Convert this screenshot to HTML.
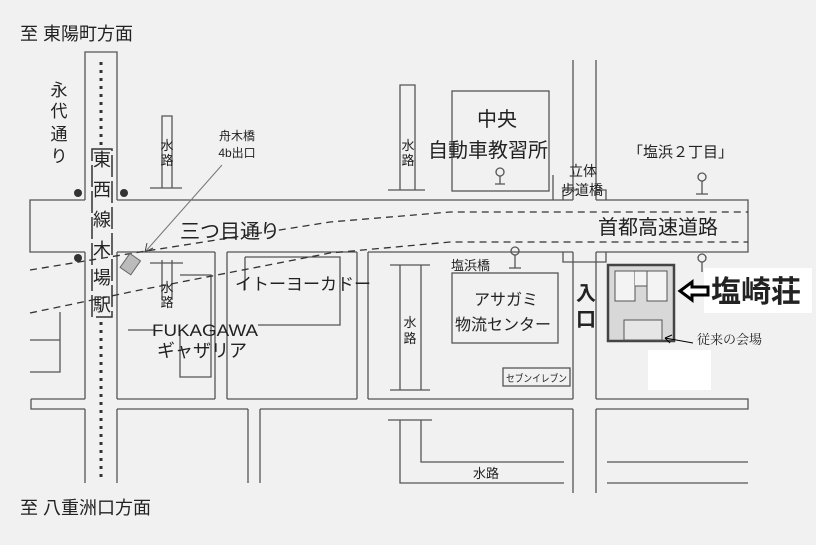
<!DOCTYPE html>
<html><head><meta charset="utf-8"><style>
html,body{margin:0;padding:0;background:#f1f1f1;}
svg{display:block}
text{font-family:"Liberation Sans","Noto Sans CJK JP",sans-serif;fill:#222}
</style></head><body>
<svg width="816" height="545" viewBox="0 0 816 545" xmlns="http://www.w3.org/2000/svg">
<rect width="816" height="545" fill="#f1f1f1"/>
<g stroke="#555" stroke-width="1.3" fill="none">
<!-- main vertical road -->
<path d="M85 200V52H117V200 M85 252V399 M117 252V399 M85 409V483 M117 409V483"/>
<!-- Mitsume road -->
<path d="M85 200H30V252H85 M117 200H573 M596 200H748V252H596 M117 252H215 M227 252H357 M368 252H573"/>
<!-- verticals top -->
<path d="M573 200V60 M596 200V60 M553 200V175"/>
<path d="M162 188V116H172V188 M150 188H182 M400 190V85H415V190 M388 190H425"/>
<!-- verticals mid -->
<path d="M215 252V399 M227 252V399 M357 252V399 M368 252V399 M573 252V399 M596 252V399"/>
<!-- bottom road -->
<path d="M31 399H85 M117 399H215 M227 399H357 M368 399H573 M596 399H748V409H596 M31 399V409H85 M117 409H248 M260 409H573"/>
<path d="M248 409V483 M260 409V483 M573 409V493 M596 409V493"/>
<!-- water channels -->
<path d="M400 265V390 M421 265V390 M390 265H430 M390 390H430"/>
<path d="M400 420V483H564 M421 420V462H564 M388 420H432 M607 462H748 M607 483H748"/>
<!-- left side lower blocks -->
<path d="M30 340H60V372H30 M60 312V340"/>
<!-- block internals -->
<path d="M162 260V300 M172 260V300 M150 263H183 M180 275H211V377H180V330 M128 330H155"/>
<path d="M245 257H340V325H258 M245 257V290"/>
<!-- Chuo building -->
<rect x="452" y="91" width="97" height="100"/>
<!-- Asagami -->
<rect x="452" y="273" width="106" height="70"/>
<!-- pedestrian bridge -->
<path d="M563 200V190H577 M606 200V190H596 M563 252V262H606V252"/>
<!-- 7-11 -->
<rect x="503" y="368" width="67" height="18"/>
<!-- bus stops -->
<circle cx="500" cy="172" r="4"/><path d="M500 176V184M495 184H505"/>
<circle cx="515" cy="251" r="4"/><path d="M515 255V268M509 268H521"/>
<circle cx="702" cy="177" r="4"/><path d="M702 181V194M696 194H708"/>
<circle cx="702" cy="258" r="4"/><path d="M702 262V272"/>
</g>
<!-- dashed lines -->
<g stroke="#333" stroke-width="1.3" fill="none" stroke-dasharray="7,5">
<path d="M30 270L140 252L330 222L450 212H748"/>
<path d="M30 313L140 290L330 253L450 242H748"/>
</g>
<!-- station dots / dotted rail -->
<g fill="#333">
<circle cx="78" cy="193" r="4"/><circle cx="124" cy="193" r="4"/><circle cx="78" cy="258" r="4"/>
</g>
<line x1="101" y1="62" x2="101" y2="146" stroke="#333" stroke-width="3" stroke-dasharray="3,5"/>
<line x1="101" y1="322" x2="101" y2="480" stroke="#333" stroke-width="3" stroke-dasharray="3,5"/>
<rect x="92" y="149" width="20" height="168" fill="none" stroke="#333" stroke-width="1.5" stroke-dasharray="22,4"/>
<text x="102" y="166" font-size="18" text-anchor="middle">東</text>
<text x="102" y="196" font-size="18" text-anchor="middle">西</text>
<text x="102" y="226" font-size="18" text-anchor="middle">線</text>
<text x="102" y="256" font-size="18" text-anchor="middle">木</text>
<text x="102" y="284" font-size="18" text-anchor="middle">場</text>
<text x="102" y="311" font-size="18" text-anchor="middle">駅</text>
<!-- exit marker -->
<rect x="124" y="256" width="13" height="17" fill="#bbb" stroke="#666" transform="rotate(35 131 264)"/>
<line x1="222" y1="165" x2="145" y2="252" stroke="#777" stroke-width="1"/>
<path d="M145 252l2-9M145 252l8-4" stroke="#444" fill="none"/>
<!-- Shiozaki-so -->
<rect x="608" y="265" width="66" height="76" fill="#d8d8d8" stroke="#444" stroke-width="2.5"/>
<rect x="615" y="271" width="20" height="30" fill="#f3f3f3" stroke="#555"/>
<rect x="647" y="271" width="20" height="30" fill="#f3f3f3" stroke="#555"/>
<path d="M635 271H647V286H635" fill="#f3f3f3" stroke="#555"/>
<rect x="624" y="320" width="38" height="20" fill="#e6e6e6" stroke="#555"/>
<rect x="704" y="268" width="108" height="45" fill="#fff"/>
<rect x="648" y="350" width="63" height="40" fill="#fff"/>
<path d="M680 291l12-9v5h16v8h-16v5z" fill="#fff" stroke="#000" stroke-width="3"/>
<text x="711" y="302" font-size="30" font-weight="bold" fill="#000">塩崎荘</text>
<path d="M665 338l28 5" stroke="#000"/><path d="M665 338l7-3M665 338l5 5" stroke="#000"/>
<text x="697" y="344" font-size="13" style="font-family:'Liberation Serif','Noto Serif CJK SC',serif" fill="#000">従来の会場</text>
<!-- labels -->
<text x="20" y="40" font-size="18">至 東陽町方面</text>
<text x="20" y="514" font-size="18">至 八重洲口方面</text>
<g font-size="17" text-anchor="middle">
<text x="59" y="96">永</text><text x="59" y="117">代</text><text x="59" y="140">通</text><text x="59" y="162">り</text>
</g>
<text x="237" y="140" font-size="12" text-anchor="middle">舟木橋</text>
<text x="237" y="157" font-size="12" text-anchor="middle">4b出口</text>
<text x="180" y="238" font-size="20">三つ目通り</text>
<text x="235" y="290" font-size="17">イトーヨーカドー</text>
<text x="152" y="336" font-size="17" textLength="106" lengthAdjust="spacingAndGlyphs">FUKAGAWA</text>
<text x="157" y="357" font-size="18">ギャザリア</text>
<g font-size="13" text-anchor="middle">
<text x="167" y="150">水</text><text x="167" y="165">路</text>
<text x="167" y="292">水</text><text x="167" y="307">路</text>
<text x="408" y="150">水</text><text x="408" y="165">路</text>
<text x="410" y="327">水</text><text x="410" y="343">路</text>
</g>
<text x="473" y="478" font-size="13">水路</text>
<text x="477" y="126" font-size="20">中央</text>
<text x="428" y="157" font-size="20">自動車教習所</text>
<text x="569" y="176" font-size="14">立体</text>
<text x="561" y="195" font-size="14">歩道橋</text>
<text x="628" y="157" font-size="15">「塩浜２丁目」</text>
<text x="598" y="234" font-size="20">首都高速道路</text>
<text x="451" y="270" font-size="13">塩浜橋</text>
<text x="474" y="305" font-size="16">アサガミ</text>
<text x="455" y="330" font-size="16">物流センター</text>
<text x="586" y="300" font-size="20" font-weight="bold" text-anchor="middle" fill="#000">入</text>
<text x="586" y="326" font-size="20" font-weight="bold" text-anchor="middle" fill="#000">口</text>
<text x="506" y="382" font-size="10" textLength="61" lengthAdjust="spacingAndGlyphs">セブンイレブン</text>
</svg>
</body></html>
